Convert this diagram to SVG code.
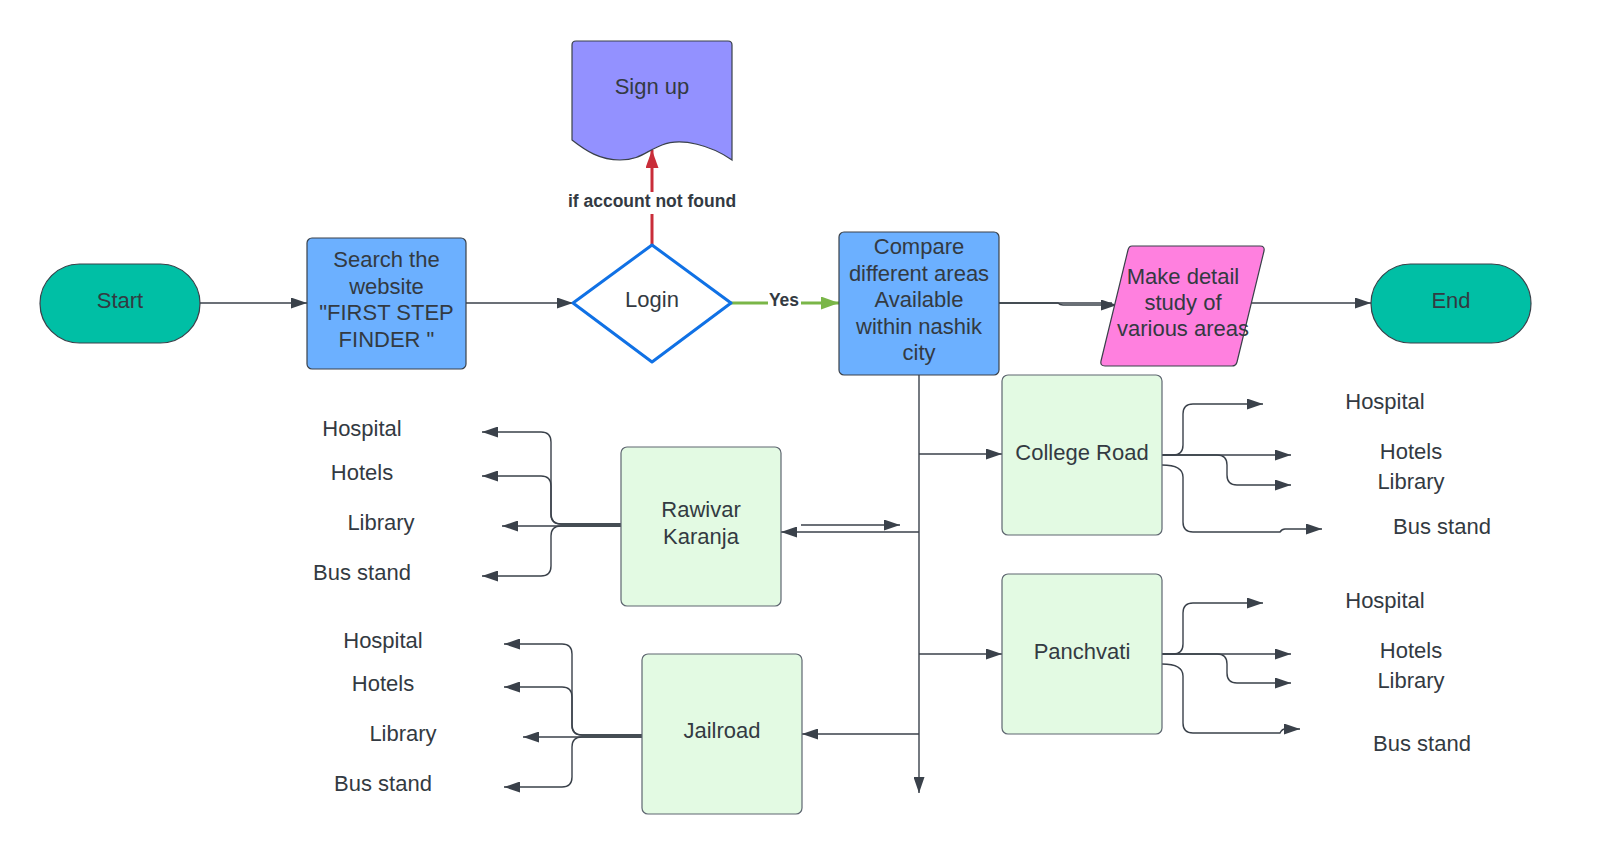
<svg xmlns="http://www.w3.org/2000/svg" width="1602" height="858" viewBox="0 0 1602 858">
<style>
  .t { font-family: "Liberation Sans", Arial, sans-serif; font-size: 22px; fill: #333a42; text-anchor: middle; }
  .lb { font-family: "Liberation Sans", Arial, sans-serif; font-size: 17.5px; font-weight: bold; fill: #333a42; text-anchor: middle; }
  .box { stroke: #3a414a; stroke-width: 1.2; }
  .gbox { fill: #e3fae3; stroke: #5e6670; stroke-width: 1.2; }
  .c { fill: none; stroke: #3a414a; stroke-width: 1.4; }
  .ca { fill: none; stroke: #3a414a; stroke-width: 1.4; marker-end: url(#ah); }
</style>
<defs>
  <marker id="ah" markerUnits="userSpaceOnUse" markerWidth="16" markerHeight="11" refX="16" refY="5.5" orient="auto">
    <path d="M0,0 L16,5.5 L0,11 z" fill="#3a414a"/>
  </marker>
  <marker id="ahg" markerUnits="userSpaceOnUse" markerWidth="18" markerHeight="13" refX="18" refY="6.5" orient="auto">
    <path d="M0,0 L18,6.5 L0,13 z" fill="#7ab648"/>
  </marker>
  <marker id="ahred" markerUnits="userSpaceOnUse" markerWidth="18" markerHeight="13" refX="18" refY="6.5" orient="auto">
    <path d="M0,0 L18,6.5 L0,13 z" fill="#c92d39"/>
  </marker>
</defs>
<rect width="1602" height="858" fill="#ffffff"/>

<g id="connectors">
  <path class="ca" d="M200,303 H307"/>
  <path class="ca" d="M466,303 H573"/>
  <path d="M652,245 V150" fill="none" stroke="#c92d39" stroke-width="3" marker-end="url(#ahred)"/>
  <path d="M731,303 H839" fill="none" stroke="#7ab648" stroke-width="3" marker-end="url(#ahg)"/>
  <path class="c" d="M999,303 H1112"/>
  <path class="ca" d="M999,303 H1058 Q1060,305 1063,305 H1117"/>
  <path class="ca" d="M1249,303 H1371"/>
  <path class="ca" d="M919,375 V793"/>
  <path class="ca" d="M919,454 H1002"/>
  <path class="ca" d="M919,654 H1002"/>
  <path class="ca" d="M919,734 H802"/>
  <path class="ca" d="M919,532 H781"/>
  <path class="ca" d="M801,525 H900"/>
  <path class="ca" d="M621,524 H561 Q551,524 551,514 V442 Q551,432 541,432 H482"/>
  <path class="ca" d="M621,524 H561 Q551,524 551,514 V486 Q551,476 541,476 H482"/>
  <path class="ca" d="M621,526 H502"/>
  <path class="ca" d="M621,526 H561 Q551,526 551,536 V566 Q551,576 541,576 H482"/>
  <path class="ca" d="M642,735 H582 Q572,735 572,725 V654 Q572,644 562,644 H504"/>
  <path class="ca" d="M642,735 H582 Q572,735 572,725 V697 Q572,687 562,687 H504"/>
  <path class="ca" d="M642,737 H523"/>
  <path class="ca" d="M642,737 H582 Q572,737 572,747 V777 Q572,787 562,787 H504"/>
  <path class="ca" d="M1162,455 H1173 Q1183,455 1183,445 V414 Q1183,404 1193,404 H1263"/>
  <path class="ca" d="M1162,455 H1291"/>
  <path class="ca" d="M1162,455 H1217 Q1227,455 1227,465 V475 Q1227,485 1237,485 H1291"/>
  <path class="ca" d="M1162,465 Q1183,465 1183,477 V522 Q1183,532 1193,532 H1280 Q1282,529 1285,529 H1322"/>
  <path class="ca" d="M1162,654 H1173 Q1183,654 1183,644 V613 Q1183,603 1193,603 H1263"/>
  <path class="ca" d="M1162,654 H1291"/>
  <path class="ca" d="M1162,654 H1217 Q1227,654 1227,664 V673 Q1227,683 1237,683 H1291"/>
  <path class="ca" d="M1162,664 Q1183,664 1183,676 V723 Q1183,733 1193,733 H1280 Q1282,729 1285,729 H1300"/>
  <rect x="566" y="192" width="172" height="22" fill="#ffffff"/>
  <text class="lb" x="652" y="207">if account not found</text>
  <rect x="768" y="292" width="33" height="20" fill="#ffffff"/>
  <text class="lb" x="784" y="306">Yes</text>
</g>

<g id="start">
  <rect class="box" x="40" y="264" width="160" height="79" rx="39.5" fill="#00bfa5"/>
  <text class="t" x="120" y="308">Start</text>
</g>

<g id="search">
  <rect class="box" x="307" y="238" width="159" height="131" rx="5" fill="#6cb0ff"/>
  <text class="t" x="386.5" y="267">Search the</text>
  <text class="t" x="386.5" y="294">website</text>
  <text class="t" x="386.5" y="320">"FIRST STEP</text>
  <text class="t" x="386.5" y="347">FINDER "</text>
</g>

<g id="login">
  <path d="M652,245 L731,303 L652,362 L573,303 Z" fill="#ffffff" stroke="#1071e5" stroke-width="3" stroke-linejoin="round"/>
  <text class="t" x="652" y="307">Login</text>
</g>

<g id="signup">
  <path class="box" d="M576,41 H728 Q732,41 732,45 V160 C712,146 682,137 662,145 C646,151 640,160 620,160 C600,160 586,151 572,140 V45 Q572,41 576,41 Z" fill="#9391ff"/>
  <text class="t" x="652" y="94">Sign up</text>
</g>

<g id="compare">
  <rect class="box" x="839" y="232" width="160" height="143" rx="5" fill="#6cb0ff"/>
  <text class="t" x="919" y="254">Compare</text>
  <text class="t" x="919" y="281">different areas</text>
  <text class="t" x="919" y="307">Available</text>
  <text class="t" x="919" y="334">within nashik</text>
  <text class="t" x="919" y="360">city</text>
</g>

<g id="detail">
  <path class="box" d="M1132,246 H1260 Q1265,246 1264,251 L1237,362 Q1236,366 1232,366 H1105 Q1100,366 1101,361 L1128,250 Q1129,246 1132,246 Z" fill="#ff80df"/>
  <text class="t" x="1183" y="284">Make detail</text>
  <text class="t" x="1183" y="310">study of</text>
  <text class="t" x="1183" y="336">various areas</text>
</g>

<g id="end">
  <rect class="box" x="1371" y="264" width="160" height="79" rx="39.5" fill="#00bfa5"/>
  <text class="t" x="1451" y="308">End</text>
</g>

<g id="college-road">
  <rect class="gbox" x="1002" y="375" width="160" height="160" rx="6"/>
  <text class="t" x="1082" y="460">College Road</text>
</g>

<g id="panchvati">
  <rect class="gbox" x="1002" y="574" width="160" height="160" rx="6"/>
  <text class="t" x="1082" y="659">Panchvati</text>
</g>

<g id="rawivar-karanja">
  <rect class="gbox" x="621" y="447" width="160" height="159" rx="6"/>
  <text class="t" x="701" y="517">Rawivar</text>
  <text class="t" x="701" y="544">Karanja</text>
</g>

<g id="jailroad">
  <rect class="gbox" x="642" y="654" width="160" height="160" rx="6"/>
  <text class="t" x="722" y="738">Jailroad</text>
</g>

<g id="rk-labels">
  <text class="t" x="362" y="436">Hospital</text>
  <text class="t" x="362" y="480">Hotels</text>
  <text class="t" x="381" y="530">Library</text>
  <text class="t" x="362" y="580">Bus stand</text>
</g>

<g id="jr-labels">
  <text class="t" x="383" y="648">Hospital</text>
  <text class="t" x="383" y="691">Hotels</text>
  <text class="t" x="403" y="741">Library</text>
  <text class="t" x="383" y="791">Bus stand</text>
</g>

<g id="cr-labels">
  <text class="t" x="1385" y="409">Hospital</text>
  <text class="t" x="1411" y="459">Hotels</text>
  <text class="t" x="1411" y="489">Library</text>
  <text class="t" x="1442" y="534">Bus stand</text>
</g>

<g id="pv-labels">
  <text class="t" x="1385" y="608">Hospital</text>
  <text class="t" x="1411" y="658">Hotels</text>
  <text class="t" x="1411" y="688">Library</text>
  <text class="t" x="1422" y="751">Bus stand</text>
</g>
</svg>
